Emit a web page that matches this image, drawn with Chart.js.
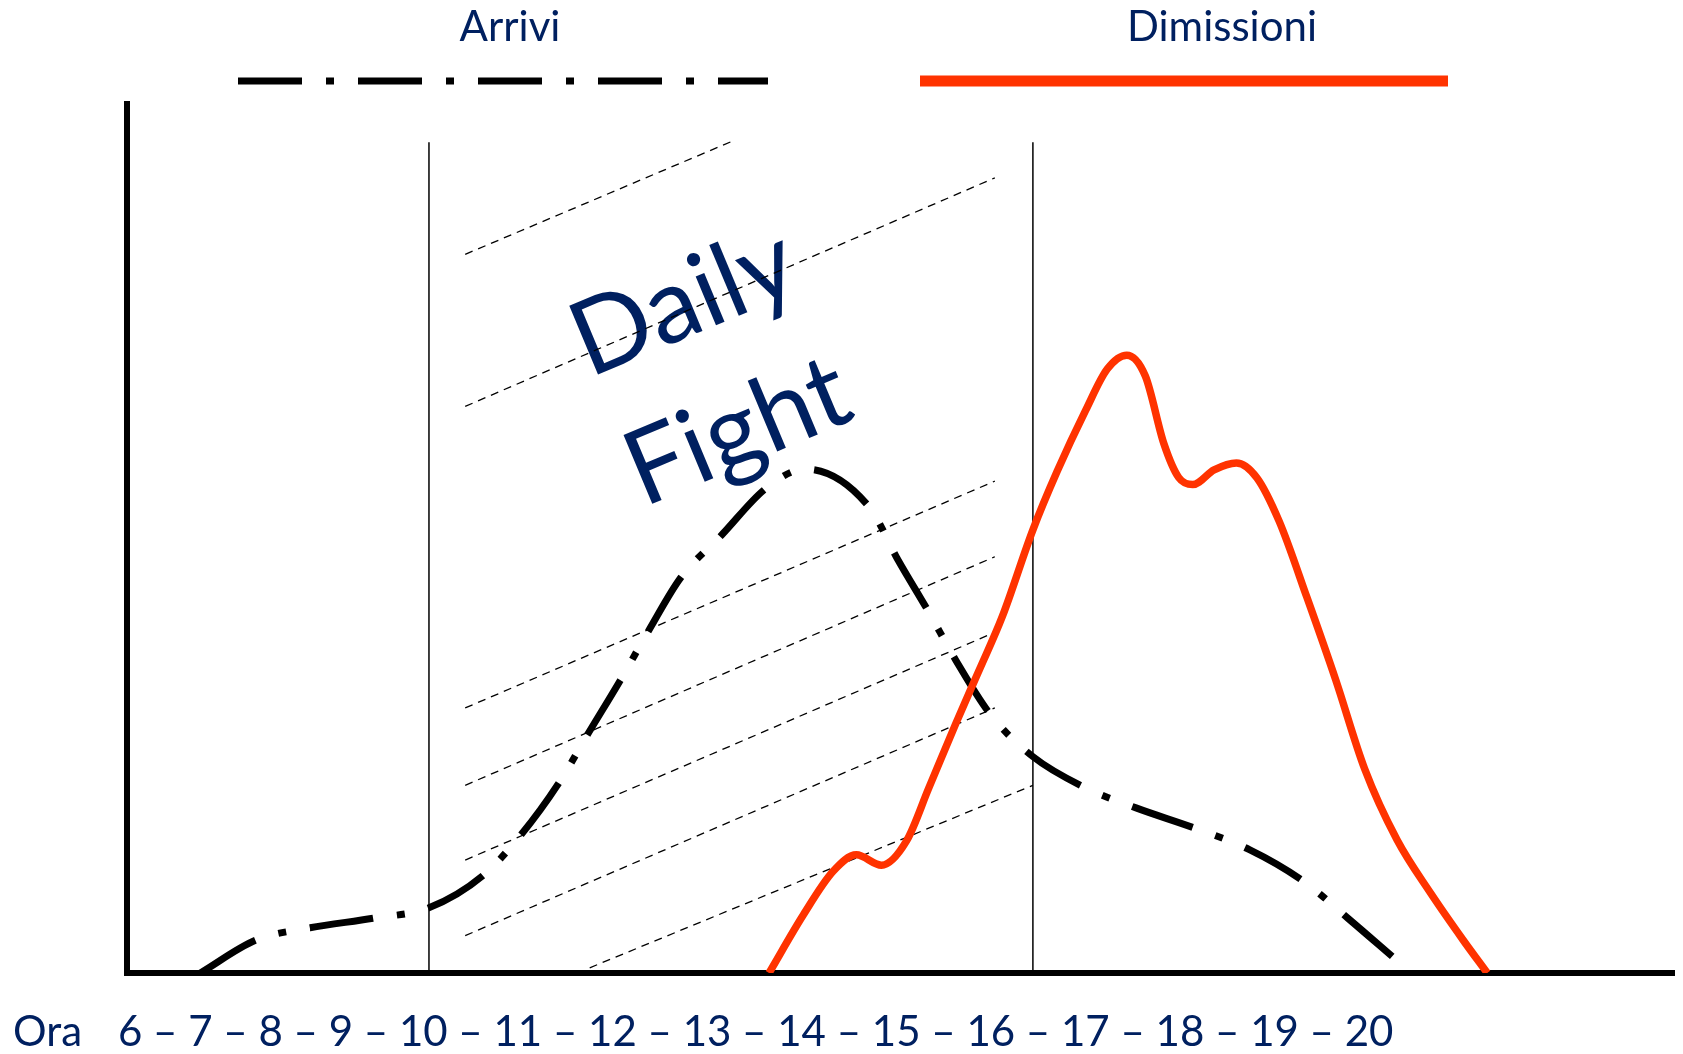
<!DOCTYPE html>
<html lang="it">
<head>
<meta charset="utf-8">
<title>Arrivi e Dimissioni – Daily Fight</title>
<script src="https://cdn.jsdelivr.net/npm/chart.js@4.4.1/dist/chart.umd.min.js"></script>
<style>
  html, body { margin: 0; padding: 0; background: #ffffff; overflow: hidden; }
  #wrap { position: relative; width: 1683px; height: 1054px; }
</style>
</head>
<body>
<div id="wrap"><canvas id="grafico"></canvas></div>
<script>
// Hours written under the axis
const ORE = [6, 7, 8, 9, 10, 11, 12, 13, 14, 15, 16, 17, 18, 19, 20];

// Arrivals curve (hour, relative intensity)
const ARRIVI_ORA = [7.54, 8.14, 8.72, 9.40, 10.0, 10.58, 10.99, 11.40, 11.71, 12.06, 12.37, 12.71, 13.15, 13.63, 14.05, 14.74, 15.05, 15.37, 15.67, 16.04, 16.5, 17.05, 17.61, 18.26, 18.83, 19.42, 19.89, 20.40];
const ARRIVI_VAL = [0, 3.8, 5.2, 6.3, 7.5, 11.2, 15.9, 21.9, 27.5, 33.7, 39.5, 45.5, 50.4, 55.8, 58.0, 53.6, 47.5, 41.7, 36.0, 29.8, 24.9, 21.4, 19.0, 16.6, 14.2, 10.5, 6.3, 1.6];

// Discharges curve (hour, relative intensity)
const DIMISSIONI_ORA = [13.66, 14.03, 14.35, 14.60, 14.87, 15.14, 15.38, 15.67, 15.92, 16.17, 16.5, 16.76, 17.07, 17.30, 17.51, 17.71, 17.91, 18.07, 18.22, 18.45, 18.69, 18.91, 19.15, 19.45, 19.76, 20.07, 20.42, 20.78, 21.13, 21.39];
const DIMISSIONI_VAL = [0, 6.7, 11.7, 13.6, 12.4, 15.2, 21.3, 28.7, 34.8, 41.0, 51.0, 57.7, 64.8, 69.5, 71.1, 68.7, 60.9, 57.0, 56.2, 57.9, 58.7, 57.0, 52.0, 43.2, 33.7, 23.5, 15.3, 9.2, 3.8, 0];

// Borders of the "Daily Fight" window (hours) and their height
const FASCIA_ORE = [10, 16.5];
const FASCIA_ALTEZZA = 95.6;

// Hatching of the window: [hour start, value start, hour end, value end]
const TRATTEGGIO = [
  [10.39, 82.7, 13.26, 95.7],
  [10.39, 65.2, 16.09, 91.5],
  [10.39, 30.5, 16.09, 56.6],
  [10.39, 21.6, 16.09, 47.9],
  [10.39, 13.0, 16.09, 39.2],
  [10.39, 4.3, 16.09, 30.5],
  [11.73, 0.6, 16.5, 21.6]
];

const NAVY = '#002060';
const ROSSO = '#ff3300';
const NERO = '#000000';

const punti = (xs, ys) => xs.map((x, i) => ({ x: x, y: ys[i] }));

const datasets = [
  {
    label: 'Dimissioni',
    data: punti(DIMISSIONI_ORA, DIMISSIONI_VAL),
    borderColor: ROSSO,
    borderWidth: 7.5,
    cubicInterpolationMode: 'monotone',
    pointRadius: 0,
    order: 0
  },
  {
    label: 'Arrivi',
    data: punti(ARRIVI_ORA, ARRIVI_VAL),
    borderColor: NERO,
    borderWidth: 7,
    borderDash: [64, 24, 8, 24],
    borderCapStyle: 'butt',
    cubicInterpolationMode: 'monotone',
    pointRadius: 0,
    order: 1
  }
];

FASCIA_ORE.forEach((h) => {
  datasets.push({
    label: 'fascia',
    data: [{ x: h, y: 0 }, { x: h, y: FASCIA_ALTEZZA }],
    borderColor: NERO,
    borderWidth: 1.5,
    pointRadius: 0,
    tension: 0,
    order: 2
  });
});

TRATTEGGIO.forEach((s) => {
  datasets.push({
    label: 'tratteggio',
    data: [{ x: s[0], y: s[1] }, { x: s[2], y: s[3] }],
    borderColor: NERO,
    borderWidth: 1.3,
    borderDash: [8, 6],
    borderCapStyle: 'butt',
    pointRadius: 0,
    tension: 0,
    order: 3
  });
});

// Captions, legend and the hour row
const decorazioni = {
  id: 'decorazioni',
  beforeDatasetsDraw(chart, args, opts) {
    const { ctx, scales: { x, y } } = chart;
    const s = opts.scritta;
    ctx.save();
    ctx.translate(x.getPixelForValue(s.ora), y.getPixelForValue(s.valore));
    ctx.rotate(s.angolo * Math.PI / 180);
    ctx.font = s.font;
    ctx.fillStyle = NAVY;
    ctx.textAlign = 'center';
    ctx.textBaseline = 'alphabetic';
    s.righe.forEach((r, i) => ctx.fillText(r, 0, i * s.interlinea));
    ctx.restore();
  },
  afterDraw(chart, args, opts) {
    const ctx = chart.ctx;
    opts.legenda.forEach((item) => {
      const ds = chart.data.datasets.find((d) => d.label === item.serie);
      ctx.save();
      ctx.font = opts.font;
      ctx.fillStyle = NAVY;
      ctx.textAlign = 'center';
      ctx.textBaseline = 'alphabetic';
      ctx.fillText(ds.label, item.testoX, item.testoY);
      ctx.strokeStyle = ds.borderColor;
      ctx.lineWidth = item.spessore;
      ctx.lineCap = 'butt';
      ctx.setLineDash(ds.borderDash || []);
      ctx.beginPath();
      ctx.moveTo(item.x0, item.lineaY);
      ctx.lineTo(item.x1, item.lineaY);
      ctx.stroke();
      ctx.restore();
    });
    ctx.save();
    ctx.font = opts.font;
    ctx.fillStyle = NAVY;
    ctx.textAlign = 'left';
    ctx.textBaseline = 'alphabetic';
    ctx.fillText('Ora', opts.titoloX, opts.oreY);
    ctx.fillText(ORE.join(' – '), opts.oreX, opts.oreY);
    ctx.restore();
  }
};

new Chart(document.getElementById('grafico'), {
  type: 'line',
  data: { datasets: datasets },
  options: {
    responsive: true,
    maintainAspectRatio: false,
    animation: false,
    events: [],
    layout: { padding: { left: 127, top: 104, right: 9, bottom: 81 } },
    plugins: {
      legend: { display: false },
      tooltip: { enabled: false },
      decorazioni: {
        font: '42px Lato',
        titoloX: 13,
        oreX: 118,
        oreY: 1046,
        legenda: [
          { serie: 'Arrivi', testoX: 510, testoY: 41, x0: 238, x1: 768, lineaY: 81, spessore: 7 },
          { serie: 'Dimissioni', testoX: 1222, testoY: 41, x0: 920, x1: 1448, lineaY: 81, spessore: 11 }
        ],
        scritta: {
          righe: ['Daily', 'Fight'],
          ora: 12.88,
          valore: 73.6,
          angolo: -22.7,
          interlinea: 140,
          font: '104px Lato'
        }
      }
    },
    scales: {
      x: {
        type: 'linear',
        min: 6.75,
        max: 23.4,
        ticks: { display: false },
        grid: { display: false, drawTicks: false },
        border: { display: true, color: NERO, width: 6 }
      },
      y: {
        type: 'linear',
        min: 0,
        max: 100,
        ticks: { display: false },
        grid: { display: false, drawTicks: false },
        border: { display: true, color: NERO, width: 6 }
      }
    }
  },
  plugins: [decorazioni]
});
</script>
</body>
</html>
